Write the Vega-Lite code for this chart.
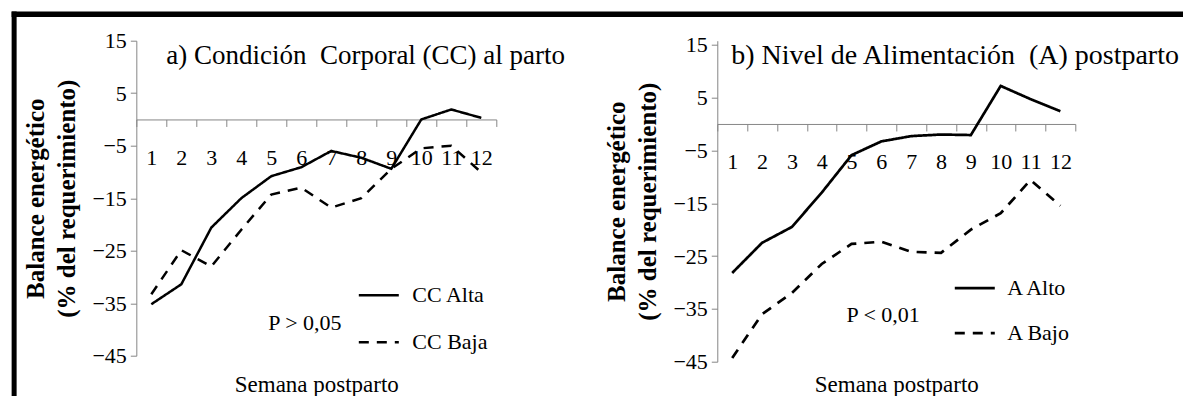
{
  "$schema": "https://vega.github.io/schema/vega-lite/v6.json",
  "background": "white",
  "padding": {"left": 8.3, "top": 8.7, "right": 0, "bottom": 0},
  "bounds": "flush",
  "spacing": 221,
  "datasets": {
    "a": [
      {"semana": 1, "grupo": "CC Alta", "valor": -35.2},
      {"semana": 2, "grupo": "CC Alta", "valor": -31.4},
      {"semana": 3, "grupo": "CC Alta", "valor": -20.6},
      {"semana": 4, "grupo": "CC Alta", "valor": -15.0},
      {"semana": 5, "grupo": "CC Alta", "valor": -10.8},
      {"semana": 6, "grupo": "CC Alta", "valor": -9.1},
      {"semana": 7, "grupo": "CC Alta", "valor": -6.0},
      {"semana": 8, "grupo": "CC Alta", "valor": -7.3},
      {"semana": 9, "grupo": "CC Alta", "valor": -9.4},
      {"semana": 10, "grupo": "CC Alta", "valor": 0.0},
      {"semana": 11, "grupo": "CC Alta", "valor": 1.9},
      {"semana": 12, "grupo": "CC Alta", "valor": 0.3},
      {"semana": 1, "grupo": "CC Baja", "valor": -33.3},
      {"semana": 2, "grupo": "CC Baja", "valor": -24.9},
      {"semana": 3, "grupo": "CC Baja", "valor": -28.0},
      {"semana": 4, "grupo": "CC Baja", "valor": -21.0},
      {"semana": 5, "grupo": "CC Baja", "valor": -14.3},
      {"semana": 6, "grupo": "CC Baja", "valor": -13.0},
      {"semana": 7, "grupo": "CC Baja", "valor": -16.8},
      {"semana": 8, "grupo": "CC Baja", "valor": -15.0},
      {"semana": 9, "grupo": "CC Baja", "valor": -9.4},
      {"semana": 10, "grupo": "CC Baja", "valor": -5.5},
      {"semana": 11, "grupo": "CC Baja", "valor": -5.0},
      {"semana": 12, "grupo": "CC Baja", "valor": -10.1}
    ],
    "b": [
      {"semana": 1, "grupo": "A Alto", "valor": -28.2},
      {"semana": 2, "grupo": "A Alto", "valor": -22.5},
      {"semana": 3, "grupo": "A Alto", "valor": -19.5},
      {"semana": 4, "grupo": "A Alto", "valor": -13.0},
      {"semana": 5, "grupo": "A Alto", "valor": -5.9},
      {"semana": 6, "grupo": "A Alto", "valor": -3.3},
      {"semana": 7, "grupo": "A Alto", "valor": -2.3},
      {"semana": 8, "grupo": "A Alto", "valor": -2.0},
      {"semana": 9, "grupo": "A Alto", "valor": -2.1},
      {"semana": 10, "grupo": "A Alto", "valor": 7.2},
      {"semana": 11, "grupo": "A Alto", "valor": 4.7},
      {"semana": 12, "grupo": "A Alto", "valor": 2.4},
      {"semana": 1, "grupo": "A Bajo", "valor": -44.3},
      {"semana": 2, "grupo": "A Bajo", "valor": -36.0},
      {"semana": 3, "grupo": "A Bajo", "valor": -32.0},
      {"semana": 4, "grupo": "A Bajo", "valor": -26.5},
      {"semana": 5, "grupo": "A Bajo", "valor": -22.7},
      {"semana": 6, "grupo": "A Bajo", "valor": -22.3},
      {"semana": 7, "grupo": "A Bajo", "valor": -24.2},
      {"semana": 8, "grupo": "A Bajo", "valor": -24.4},
      {"semana": 9, "grupo": "A Bajo", "valor": -20.0},
      {"semana": 10, "grupo": "A Bajo", "valor": -16.9},
      {"semana": 11, "grupo": "A Bajo", "valor": -10.6},
      {"semana": 12, "grupo": "A Bajo", "valor": -15.5}
    ]
  },
  "resolve": {"scale": {"strokeDash": "independent"}, "legend": {"strokeDash": "independent"}},
  "config": {
    "font": "Liberation Serif",
    "view": {"stroke": null},
    "axis": {
      "domainColor": "#868686", "tickColor": "#868686", "domainWidth": 1, "tickWidth": 1,
      "labelColor": "#000000", "labelFont": "Liberation Serif", "labelFontSize": 22,
      "grid": false, "titleColor": "#000000", "titleFont": "Liberation Serif", "labelOverlap": false
    },
    "legend": {"labelFont": "Liberation Serif", "labelFontSize": 22, "labelColor": "#000000"},
    "text": {"font": "Liberation Serif", "fontSize": 22, "color": "#000000"}
  },
  "hconcat": [
    {
      "width": 360,
      "height": 315,
      "resolve": {"scale": {"x": "independent"}, "axis": {"x": "independent"}},
      "layer": [
        {
          "data": {"name": "a"},
          "mark": {"type": "line", "color": "black", "strokeWidth": 2.5},
          "encoding": {
            "x": {
              "field": "semana", "type": "ordinal", "bandPosition": 0.5,
              "scale": {"type": "band", "paddingInner": 0, "paddingOuter": 0},
              "axis": {
                "tickBand": "extent", "labelAngle": 0, "labelOverlap": false,
                "labelFont": "Liberation Serif", "labelFontSize": 22,
                "tickSize": 7, "labelPadding": 21, "orient": "bottom", "offset": -236.25,
                "title": "Semana postparto", "titleFontSize": 23, "titleFontWeight": "normal",
                "titleY": 265, "titleBaseline": "middle"
              }
            },
            "y": {
              "field": "valor", "type": "quantitative",
              "scale": {"domain": [-45, 15], "nice": false, "zero": false},
              "axis": {
                "values": [-45, -35, -25, -15, -5, 5, 15], "tickSize": 6, "labelPadding": 4,
                "labelFont": "Liberation Serif", "labelFontSize": 22,
                "title": ["Balance energético", "(% del requerimiento)"],
                "titleFontSize": 25, "titleFontWeight": "bold", "titleLineHeight": 31, "titlePadding": 12
              }
            },
            "strokeDash": {
              "field": "grupo", "type": "nominal",
              "scale": {"domain": ["CC Alta", "CC Baja"], "range": [[1, 0], [10, 8]]},
              "legend": {
                "orient": "none", "legendX": 221, "legendY": 233, "title": null,
                "labelFont": "Liberation Serif", "labelFontSize": 22,
                "symbolType": "stroke", "symbolSize": 1600, "symbolStrokeWidth": 2.5,
                "symbolStrokeColor": "black", "labelOffset": 12, "rowPadding": 14
              }
            }
          }
        },
        {
          "layer": [
            {
              "data": {"values": [{}]},
              "mark": {"type": "text", "align": "left", "baseline": "middle", "fontSize": 27, "font": "Liberation Serif"},
              "encoding": {
                "x": {"datum": 1.5, "type": "quantitative", "scale": {"domain": [0.5, 12.5], "nice": false, "zero": false}, "axis": null},
                "y": {"datum": 12.1},
                "text": {"value": "a) Condición\u00a0 Corporal (CC) al parto"}
              }
            },
            {
              "data": {"values": [{}]},
              "mark": {"type": "text", "align": "center", "baseline": "middle", "fontSize": 22, "font": "Liberation Serif"},
              "encoding": {
                "x": {"datum": 6.12, "type": "quantitative", "axis": null},
                "y": {"datum": -38.7},
                "text": {"value": "P > 0,05"}
              }
            },
            {
              "data": {"values": [{}]},
              "mark": {"type": "rule", "color": "black", "strokeWidth": 5.6},
              "encoding": {
                "x": {"datum": -3.657, "type": "quantitative", "axis": null},
                "x2": {"datum": 35.5},
                "y": {"datum": 20.05}
              }
            },
            {
              "data": {"values": [{}]},
              "mark": {"type": "rule", "color": "black", "strokeWidth": 5},
              "encoding": {
                "x": {"datum": -3.573, "type": "quantitative", "axis": null},
                "y": {"datum": 20.58},
                "y2": {"datum": -53.19}
              }
            }
          ]
        }
      ]
    },
    {
      "width": 358,
      "height": 321,
      "resolve": {"scale": {"x": "independent"}, "axis": {"x": "independent"}},
      "layer": [
        {
          "data": {"name": "b"},
          "mark": {"type": "line", "color": "black", "strokeWidth": 2.7},
          "encoding": {
            "x": {
              "field": "semana", "type": "ordinal", "bandPosition": 0.5,
              "scale": {"type": "band", "paddingInner": 0, "paddingOuter": 0},
              "axis": {
                "tickBand": "extent", "labelAngle": 0, "labelOverlap": false,
                "labelFont": "Liberation Serif", "labelFontSize": 22,
                "tickSize": 7, "labelPadding": 21, "orient": "bottom", "offset": -237.74,
                "title": "Semana postparto", "titleFontSize": 23, "titleFontWeight": "normal",
                "titleY": 261, "titleBaseline": "middle"
              }
            },
            "y": {
              "field": "valor", "type": "quantitative",
              "scale": {"domain": [-45, 15.76], "nice": false, "zero": false},
              "axis": {
                "values": [-45, -35, -25, -15, -5, 5, 15], "tickSize": 6, "labelPadding": 4,
                "labelFont": "Liberation Serif", "labelFontSize": 22,
                "title": ["Balance energético", "(% del requerimiento)"],
                "titleFontSize": 25, "titleFontWeight": "bold", "titleLineHeight": 31, "titlePadding": 12
              }
            },
            "strokeDash": {
              "field": "grupo", "type": "nominal",
              "scale": {"domain": ["A Alto", "A Bajo"], "range": [[1, 0], [10, 8]]},
              "legend": {
                "orient": "none", "legendX": 236, "legendY": 226, "title": null,
                "labelFont": "Liberation Serif", "labelFontSize": 22,
                "symbolType": "stroke", "symbolSize": 1600, "symbolStrokeWidth": 2.7,
                "symbolStrokeColor": "black", "labelOffset": 11, "rowPadding": 12
              }
            }
          }
        },
        {
          "layer": [
            {
              "data": {"values": [{}]},
              "mark": {"type": "text", "align": "left", "baseline": "middle", "fontSize": 28, "font": "Liberation Serif"},
              "encoding": {
                "x": {"datum": 0.97, "type": "quantitative", "scale": {"domain": [0.5, 12.5], "nice": false, "zero": false}, "axis": null},
                "y": {"datum": 12.9},
                "text": {"value": "b) Nivel de Alimentación\u00a0 (A) postparto"}
              }
            },
            {
              "data": {"values": [{}]},
              "mark": {"type": "text", "align": "center", "baseline": "middle", "fontSize": 22, "font": "Liberation Serif"},
              "encoding": {
                "x": {"datum": 6.06, "type": "quantitative", "axis": null},
                "y": {"datum": -36.1},
                "text": {"value": "P < 0,01"}
              }
            }
          ]
        }
      ]
    }
  ]
}
